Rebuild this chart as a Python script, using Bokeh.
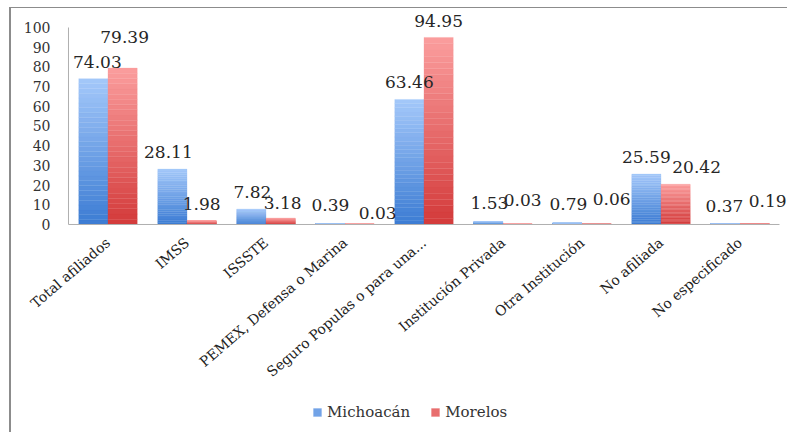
from bokeh.plotting import figure
from bokeh.models import ColumnDataSource, FixedTicker, Legend, LegendItem, Range1d
from bokeh.core.properties import value
from bokeh.embed import file_html
from bokeh.resources import INLINE

categories = ["Total afiliados", "IMSS", "ISSSTE", "PEMEX, Defensa o Marina",
              "Seguro Populas o para una...", "Institución Privada",
              "Otra Institución", "No afiliada", "No especificado"]
michoacan = [74.03, 28.11, 7.82, 0.39, 63.46, 1.53, 0.79, 25.59, 0.37]
morelos = [79.39, 1.98, 3.18, 0.03, 94.95, 0.03, 0.06, 20.42, 0.19]
y_ticks = [0, 10, 20, 30, 40, 50, 60, 70, 80, 90, 100]

# label nudges (pixels) to mimic the reference placement
dx_blue = [4, -4, 1, 0, 0, 1, 1, 0, -1]
dy_blue = [17, 17, 17, 19, 17, 18, 19, 17, 18]
dx_red = [2, 0, 2, 18, 0, 5, 15, 21, 13]
dy_red = [31, 17, 15, 11, 16, 24, 25, 17, 23]

FONT = "DejaVu Serif"
BW = 0.37
OFF = 0.185
n = len(categories)
xc = [i + 0.5 for i in range(n)]
xb = [x - OFF for x in xc]
xr = [x + OFF for x in xc]

# frame fills the whole canvas; axes sit at fixed locations inside it
p = figure(x_range=Range1d(-0.7215, 9.1266), y_range=Range1d(-106.09, 109.64),
           width=778, height=425, output_backend="svg", toolbar_location=None,
           min_border=0, margin=(7, 0, 0, 9))
p.styles = {"border-left": "2px solid #8c8c8c", "border-top": "1px solid #8c8c8c"}
p.outline_line_color = None
p.xgrid.grid_line_color = None
p.ygrid.grid_line_color = None
p.background_fill_color = "white"
p.border_fill_color = "white"


def lerp(c1, c2, t):
    return "#%02x%02x%02x" % tuple(int(round(a + (b - a) * t)) for a, b in zip(c1, c2))


blue_dark, blue_light = (0x3c, 0x7c, 0xd3), (0xa4, 0xc8, 0xfa)
red_dark, red_light = (0xd3, 0x3a, 0x3a), (0xfb, 0x9e, 0x9e)

N = 30
legend_r = {}
for xs, vals, dark, light, name in [(xb, michoacan, blue_dark, blue_light, "Michoacán"),
                                    (xr, morelos, red_dark, red_light, "Morelos")]:
    for k in range(N):
        src = ColumnDataSource(dict(x=xs,
                                    b=[v * k / N for v in vals],
                                    t=[v * (k + 1) / N for v in vals]))
        c = lerp(dark, light, (k + 0.5) / N)
        r = p.vbar(x="x", bottom="b", top="t", width=BW,
                   source=src, fill_color=c, line_color=c, line_width=0.3)
        if k == N // 2:
            legend_r[name] = r

for xs, vals, dx, dy in [(xb, michoacan, dx_blue, dy_blue), (xr, morelos, dx_red, dy_red)]:
    src = ColumnDataSource(dict(x=xs, y=vals, t=["%.2f" % v for v in vals],
                                dx=dx, dy=[-d for d in dy]))
    p.text(x="x", y="y", text="t", x_offset="dx", y_offset="dy",
           source=src, text_align="center", text_baseline="middle",
           text_font=value(FONT), text_font_size="17px", text_color="#262626")

# axis lines drawn over the category span only
p.segment(x0=0, y0=0, x1=0, y1=100, line_color="#b0b0b0", line_width=1)
p.segment(x0=0, y0=0, x1=n, y1=0, line_color="#b0b0b0", line_width=1)

for ax in (p.xaxis, p.yaxis):
    ax.fixed_location = 0
    ax.axis_line_color = None
    ax.major_tick_line_color = None
    ax.minor_tick_line_color = None
    ax.major_tick_out = 0
    ax.major_tick_in = 0
    ax.minor_tick_out = 0
    ax.minor_tick_in = 0

p.yaxis.ticker = FixedTicker(ticks=y_ticks)
p.yaxis.major_label_text_font = FONT
p.yaxis.major_label_text_font_size = "14px"
p.yaxis.major_label_text_color = "#333333"
p.yaxis.major_label_standoff = 18

p.xaxis.ticker = FixedTicker(ticks=xc)
p.xaxis.major_label_overrides = {x: c for x, c in zip(xc, categories)}
p.xaxis.major_label_orientation = 0.71
p.xaxis.major_label_text_font = FONT
p.xaxis.major_label_text_font_size = "14px"
p.xaxis.major_label_text_color = "#222222"
p.xaxis.major_label_standoff = 16

legend = Legend(items=[LegendItem(label="Michoacán", renderers=[legend_r["Michoacán"]]),
                       LegendItem(label="Morelos", renderers=[legend_r["Morelos"]])],
                orientation="horizontal", location=(301, 12),
                glyph_width=10, glyph_height=10, label_standoff=5, spacing=20,
                padding=0, margin=0, border_line_color=None, background_fill_alpha=0)
legend.label_text_font = FONT
legend.label_text_font_size = "15px"
legend.label_text_color = "#333333"
p.add_layout(legend, "center")

open("out.html", "w").write(file_html(p, INLINE))
